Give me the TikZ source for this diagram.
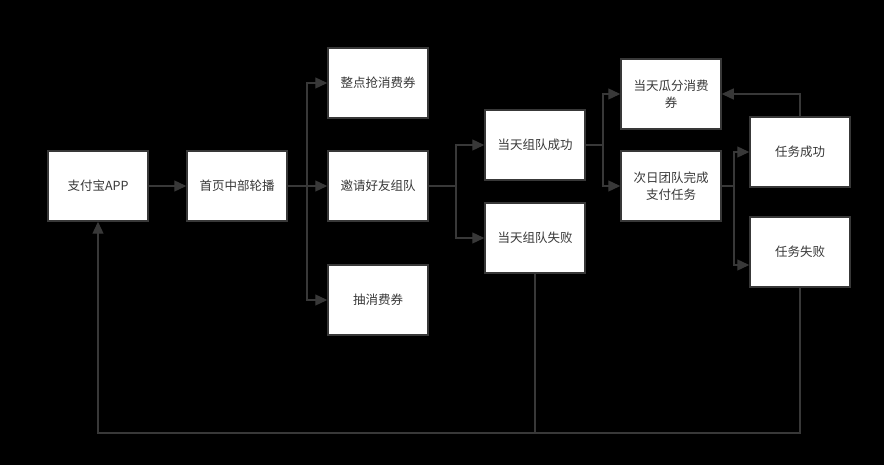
\documentclass[tikz,border=0pt]{standalone}
\usepackage{fontspec}
\setmainfont{Noto Sans CJK SC}
\usetikzlibrary{arrows.meta,calc}
\definecolor{ln}{HTML}{383838}
\begin{document}
\begin{tikzpicture}[x=1pt,y=-1pt,
  box/.style={draw=ln,line width=1.5pt,fill=white,minimum width=100pt,minimum height=70pt,inner sep=2pt,align=center,text=ln,font=\fontsize{12.5}{17}\selectfont},
  conn/.style={draw=ln,line width=1.3pt},
  arr/.style={conn,-{Triangle[length=12pt,width=11pt]}}]
\fill[black] (0,0) rectangle (884,465);
\useasboundingbox (0,0) rectangle (884,465);
\node[box] (app) at (98,186) {支付宝APP};
\node[box] (lb) at (237,186) {首页中部轮播};
\node[box] (zd) at (378,83) {整点抢消费券};
\node[box] (yq) at (378,186) {邀请好友组队};
\node[box] (cx) at (378,300) {抽消费券};
\node[box] (cg) at (535,145) {当天组队成功};
\node[box] (sb) at (535,238) {当天组队失败};
\node[box] (gf) at (671,94) {当天瓜分消费\\券};
\node[box] (cr) at (671,186) {次日团队完成\\支付任务};
\node[box] (rc) at (800,152) {任务成功};
\node[box] (rs) at (800,252) {任务失败};
\coordinate (b1) at (307,186);
\coordinate (b2) at (456,186);
\coordinate (b3) at (603,145);
\coordinate (b4) at (734,186);
\coordinate (loopL) at (98,433);
\coordinate (loopM) at (535,433);
\draw[arr] (app) -- (lb);
\draw[conn] (lb.east) -- (b1);
\draw[arr] (b1) |- (zd.west);
\draw[arr] (b1) -- (yq.west);
\draw[arr] (b1) |- (cx.west);
\draw[conn] (yq.east) -- (b2);
\draw[arr] (b2) |- (cg.west);
\draw[arr] (b2) |- (sb.west);
\draw[conn] (cg.east) -- (b3);
\draw[arr] (b3) |- (gf.west);
\draw[arr] (b3) |- (cr.west);
\draw[conn] (cr.east) -- (b4);
\draw[arr] (b4) |- (rc.west);
\draw[arr] (b4) |- ([yshift=-13pt]rs.west);
\draw[arr] (rc.north) |- (gf.east);
\draw[conn] (sb.south) -- (loopM);
\draw[arr] (rs.south) |- (loopL) -- (app.south);
\end{tikzpicture}
\end{document}
